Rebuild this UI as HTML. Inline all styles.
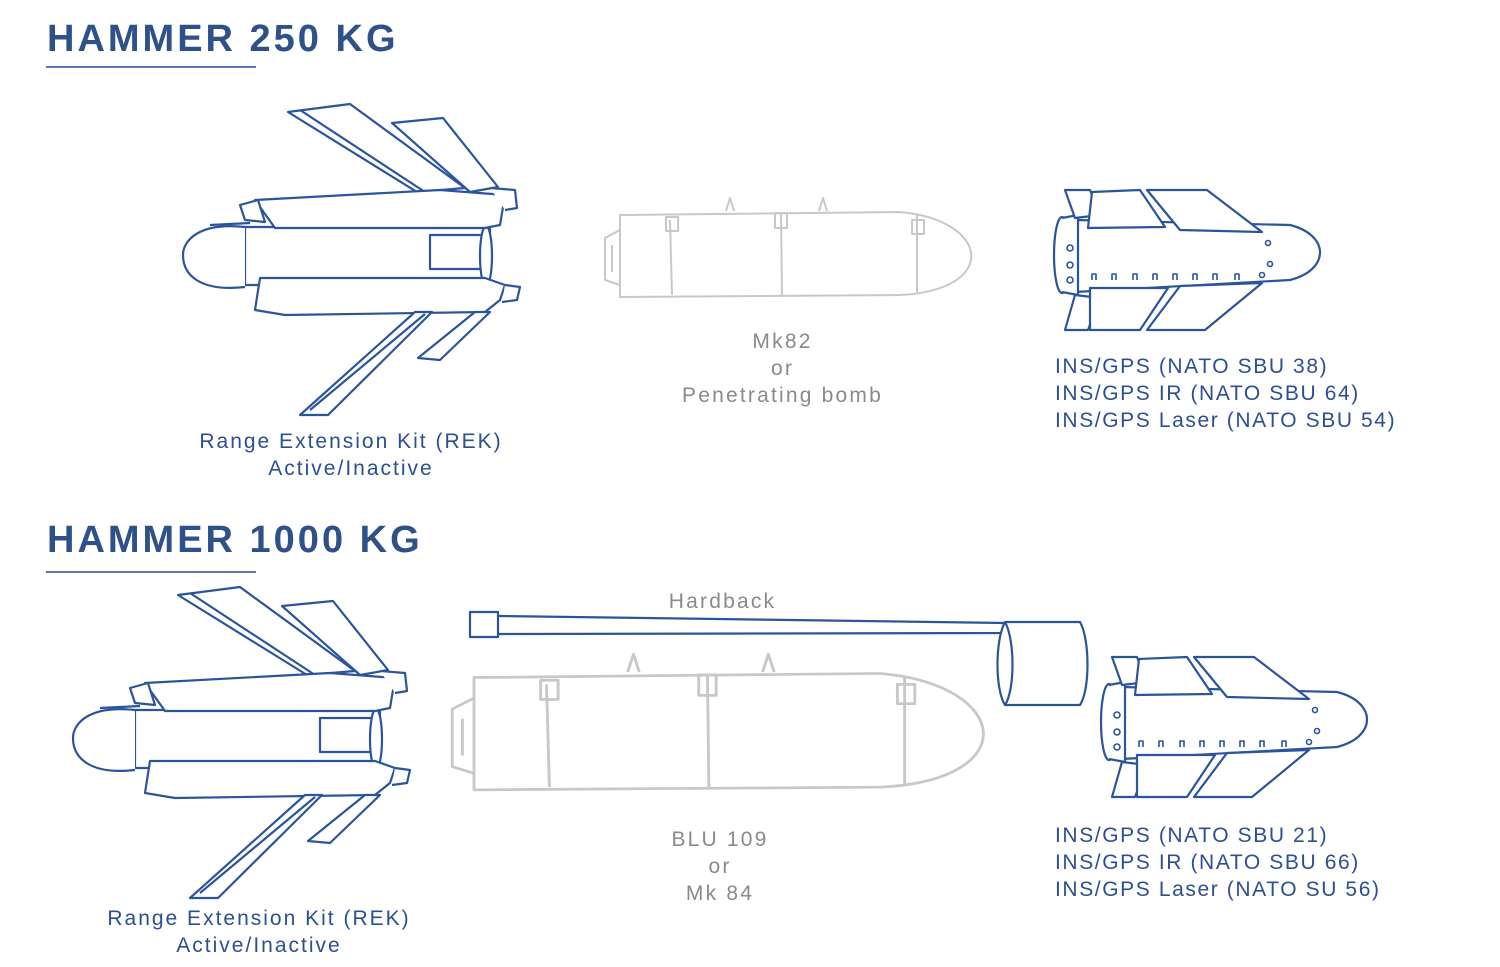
<!DOCTYPE html>
<html><head><meta charset="utf-8"><style>
body{margin:0;background:#fff;width:1500px;height:967px;overflow:hidden;position:relative;font-family:"Liberation Sans",sans-serif}
.h{position:absolute;left:47px;font-weight:bold;font-size:38px;color:#2f5189;letter-spacing:3px}
.ul{position:absolute;left:46px;width:210px;height:2px;background:#5a78b0}
.t{position:absolute;font-size:21px;color:#2d4f92;line-height:27px;letter-spacing:2px;white-space:nowrap}
.g{position:absolute;font-size:21px;color:#8a8a8a;line-height:27px;text-align:center;letter-spacing:2.2px;white-space:nowrap}
svg{position:absolute;left:0;top:0}
</style></head><body>
<svg width="1500" height="967" viewBox="0 0 1500 967" fill="none" stroke-linejoin="round">
<defs>
<g id="rek" stroke="#2a559c" stroke-width="2.2" fill="#fff">
<polygon points="288,112 350,104 465,188 417,192"/>
<line x1="300" y1="110" x2="425" y2="192"/>
<polygon points="392,123 443,118 498,187 470,192"/>
<path d="M245,227 L490,227 L490,285 L245,285 Z"/>
<path d="M245,227 C200,222 183,240 183,255 C183,275 200,292 245,287"/>
<path d="M210,225 L250,223"/>
<rect x="430" y="235" width="52" height="34"/>
<ellipse cx="486" cy="256" rx="6" ry="30"/>
<path d="M255,200 L440,190 L505,195 L500,225 L485,228 L275,228 Z"/>
<path d="M240,205 L258,200 L265,222 L245,220 Z"/>
<path d="M490,188 L515,190 L517,208 L505,210"/>
<path d="M260,278 L485,278 L505,285 L500,300 L485,312 L285,315 L255,310 Z"/>
<path d="M505,285 L520,287 L517,300 L502,302"/>
<polygon points="415,312 432,312 328,415 300,415"/>
<line x1="425" y1="314" x2="310" y2="410"/>
<polygon points="475,312 490,312 440,360 418,358"/>
</g>
<g id="gk" stroke="#2a559c" stroke-width="2.2" fill="#fff">
<path d="M1075,220 L1290,225 C1330,235 1330,270 1290,280 L1075,292 Z"/>
<ellipse cx="1062" cy="255" rx="8" ry="38"/>
<path d="M1062,218 L1078,215 L1078,295 L1062,292"/>
<path d="M1065,190 L1090,190 L1100,215 L1075,218 Z"/>
<path d="M1092,192 L1140,190 L1165,227 L1088,228 Z"/>
<path d="M1147,190 L1207,190 L1262,232 L1180,230 Z"/>
<path d="M1065,330 L1088,330 L1100,298 L1075,295 Z"/>
<path d="M1090,288 L1168,288 L1140,330 L1090,330 Z"/>
<path d="M1180,286 L1262,283 L1205,330 L1147,330 Z"/>
<g fill="none" stroke-width="1.6">
<circle cx="1070" cy="248" r="3"/><circle cx="1070" cy="265" r="3"/><circle cx="1070" cy="280" r="3"/>
<circle cx="1268" cy="243" r="2.5"/><circle cx="1270" cy="264" r="2.5"/><circle cx="1262" cy="275" r="2.5"/>
<path d="M1092,280v-6h4v6M1112,280v-6h4v6M1133,280v-6h4v6M1153,280v-6h4v6M1173,280v-6h4v6M1193,280v-6h4v6M1213,280v-6h4v6M1235,280v-6h4v6"/>
</g>
</g>
<g id="bomb" stroke="#c8c8c8" stroke-width="2">
<path d="M620,215 L900,212 C990,220 1000,290 900,295 L620,297 Z"/>
<path d="M620,230 L605,238 L605,280 L620,285"/>
<path d="M612,245 L612,272"/>
<line x1="670" y1="220" x2="672" y2="295"/><line x1="781" y1="214" x2="782" y2="296"/><line x1="917" y1="215" x2="917" y2="293"/>
<rect x="666" y="217" width="12" height="14"/><rect x="775" y="213" width="12" height="15"/><rect x="912" y="220" width="12" height="14"/>
<path d="M726,211 L730,198 L734,211M819,211 L823,198 L827,211"/>
</g>
</defs>
<use href="#rek"/>
<use href="#rek" transform="translate(-110,483)"/>
<use href="#gk"/>
<use href="#gk" transform="translate(47,467)"/>
<use href="#bomb"/>
<use href="#bomb" transform="translate(445,657) scale(1.45,1.37) translate(-600,-200)"/>
<g stroke="#2a559c" stroke-width="2.2" fill="#fff">
<path d="M498,616 L1005,623 L1005,633 L498,634"/>
<path d="M470,612 L498,612 L498,637 L470,637 Z"/>
<path d="M1005,622 L1080,622 C1090,640 1090,690 1080,705 L1005,705 C995,690 995,640 1005,622 Z"/>
<path d="M1005,622 C1015,640 1015,690 1005,705"/>
</g>
</svg>
<div class="h" style="top:18px">HAMMER 250 KG</div>
<div class="ul" style="top:66px"></div>
<div class="h" style="top:519px">HAMMER 1000 KG</div>
<div class="ul" style="top:571px"></div>
<div class="t" style="left:170px;top:428px;width:362px;text-align:center">Range Extension Kit (REK)<br>Active/Inactive</div>
<div class="t" style="left:78px;top:905px;width:362px;text-align:center">Range Extension Kit (REK)<br>Active/Inactive</div>
<div class="g" style="left:640px;top:328px;width:285px">Mk82<br>or<br>Penetrating bomb</div>
<div class="g" style="left:620px;top:826px;width:200px">BLU 109<br>or<br>Mk 84</div>
<div class="g" style="left:650px;top:588px;width:145px">Hardback</div>
<div class="t" style="left:1055px;top:353px;letter-spacing:1.6px">INS/GPS (NATO SBU 38)<br>INS/GPS IR (NATO SBU 64)<br>INS/GPS Laser (NATO SBU 54)</div>
<div class="t" style="left:1055px;top:822px;letter-spacing:1.6px">INS/GPS (NATO SBU 21)<br>INS/GPS IR (NATO SBU 66)<br>INS/GPS Laser (NATO SU 56)</div>
</body></html>
